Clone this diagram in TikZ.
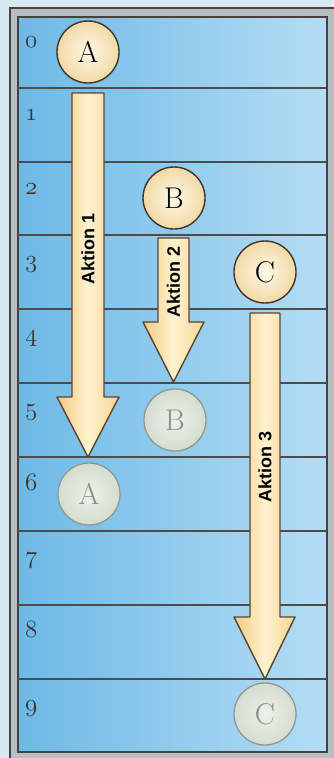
\documentclass[tikz,border=0pt]{standalone}
\usepackage{fontspec}
\newfontfamily\akfont{Liberation Sans}
\newcommand\osnum[1]{{\fontsize{32}{32}\usefont{OML}{lmm}{m}{it}#1}}
\definecolor{bgout}{HTML}{D6E8F2}
\definecolor{framegray}{HTML}{B7BFC3}
\definecolor{framedark}{HTML}{4A403B}
\definecolor{cellL}{HTML}{6DB9E6}
\definecolor{cellR}{HTML}{B4DDF4}
\definecolor{linec}{HTML}{4F4B48}
\definecolor{numc}{HTML}{3A3430}
\definecolor{tokin}{HTML}{FFF8E6}
\definecolor{tokout}{HTML}{F1D9A6}
\definecolor{tokedge}{HTML}{453529}
\definecolor{ghin}{HTML}{EEF1E8}
\definecolor{ghout}{HTML}{D4DCCF}
\definecolor{ghedge}{HTML}{8E9891}
\definecolor{ghtext}{HTML}{84908A}
\definecolor{arrL}{HTML}{F3C97E}
\definecolor{arrM}{HTML}{FFF2CF}
\definecolor{arrR}{HTML}{F6D592}
\definecolor{arredge}{HTML}{5A4533}
\begin{document}
\begin{tikzpicture}[x=1pt,y=-1pt,
  rowline/.style={draw=linec, line width=1.6pt},
  numlbl/.style={anchor=base west, inner sep=0pt, text=numc},
  tok/.style={circle, minimum size=62pt, inner sep=0pt, draw=tokedge, line width=1.4pt,
    inner color=tokin, outer color=tokout,
    font=\fontsize{30}{30}\selectfont},
  ghost/.style={circle, minimum size=62pt, inner sep=0pt, draw=ghedge, line width=1.3pt,
    inner color=ghin, outer color=ghout, text=ghtext,
    font=\fontsize{30}{30}\selectfont},
  bigarr/.style={draw=arredge, line width=1.4pt, line join=round,
    left color=arrL, right color=arrR, middle color=arrM},
  aklbl/.style={rotate=90, inner sep=0pt, font=\akfont\bfseries\fontsize{18}{18}\selectfont}
]
\useasboundingbox (0,0) rectangle (333,758);
% outer background
\fill[bgout] (0,0) rectangle (333,758);
% frame
\filldraw[fill=framegray, draw=framedark, line width=1.5pt] (10,8) rectangle (340,765);
\path[draw=framedark, line width=1.6pt, left color=cellL, right color=cellR]
  (18,17) rectangle (327,752);
% row lines
\foreach \yy in {88,162,235,309,383,457,531,605,679}
  \draw[rowline] (18,\yy) -- (327,\yy);
% row numbers
\foreach \n/\yy in {0/47,1/120,2/194,3/267,4/341,5/415,6/490,7/563,8/637,9/711}
  \node[numlbl] (n\n) at (25,\yy) {\osnum{\n}};
% arrows
\path[bigarr] (72,93) -- (104,93) -- (104,397) -- (119,397) -- (88,457) -- (57,397) -- (72,397) -- cycle;
\path[bigarr] (158,238) -- (189,238) -- (189,322) -- (204,322) -- (173.5,382) -- (143,322) -- (158,322) -- cycle;
\path[bigarr] (250,313) -- (280,313) -- (280,617) -- (295,617) -- (265,679) -- (234,617) -- (250,617) -- cycle;
\node[aklbl] (l1) at (88,249) {Aktion 1};
\node[aklbl] (l2) at (173.5,282) {Aktion 2};
\node[aklbl] (l3) at (265,467) {Aktion 3};
% tokens
\node[tok] (a) at (88,52) {A};
\node[tok] (b) at (174,198) {B};
\node[tok] (c) at (265,272) {C};
\node[ghost] (a2) at (89,494) {A};
\node[ghost] (b2) at (175,420) {B};
\node[ghost] (c2) at (265,714) {C};
\end{tikzpicture}
\end{document}
